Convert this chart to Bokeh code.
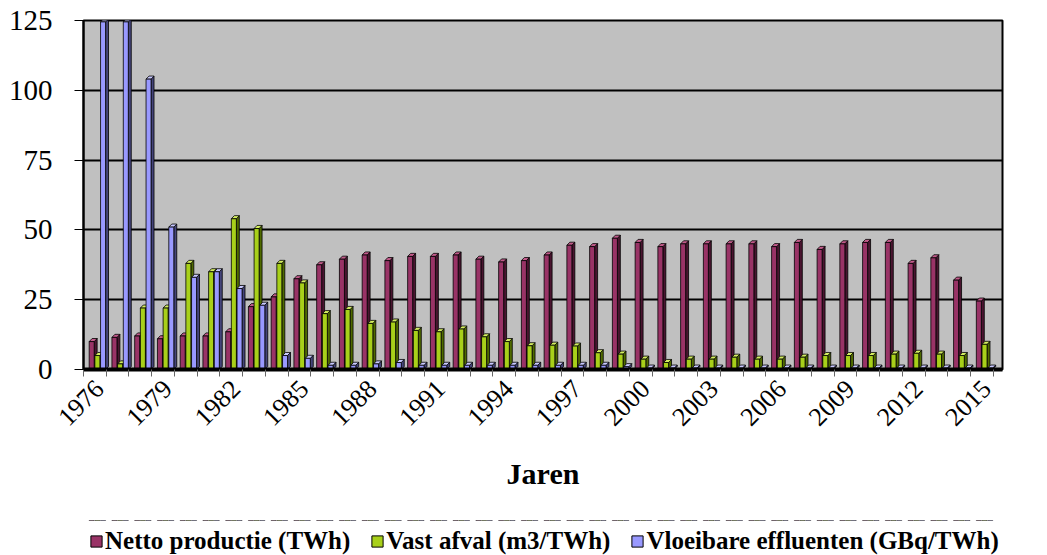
import numpy as np
from bokeh.plotting import figure
from bokeh.layouts import column
from bokeh.models import FixedTicker, Legend, LegendItem, Range1d
from bokeh.embed import file_html
from bokeh.resources import INLINE

years = list(range(1976, 2016))
netto = [10, 11.5, 12, 11, 12, 12, 13.5, 22.5, 26, 32.5,
         37.5, 39.5, 41, 39, 40.5, 40.5, 41, 39.5, 38.5, 39,
         41, 44.5, 44, 47, 45.5, 44, 45, 45, 45, 45,
         44, 45.5, 43, 45, 45.5, 45.5, 38, 40, 32, 24.5]
vast = [5, 2, 22, 22, 38, 35, 54, 50.5, 38, 31,
        20, 21.5, 16.5, 17, 14, 13.5, 14.5, 11.7, 10, 8.5,
        8.7, 8.4, 6, 5.5, 3.7, 2.5, 3.7, 3.7, 4.4, 3.7,
        3.7, 4.4, 5, 5, 5, 5.5, 5.8, 5.5, 5, 9]
vloeibare = [124.5, 124.5, 104, 51, 33, 35, 29, 23, 5, 4,
             1.5, 1.5, 2, 2.5, 1.5, 1.5, 1.5, 1.5, 1.5, 1.5,
             1.5, 1.5, 1.5, 1, 0.5, 0.5, 0.5, 0.5, 0.5, 0.5,
             0.5, 0.5, 0.5, 0.5, 0.5, 0.5, 0.5, 0.5, 0.5, 0.5]
series_names = ["Netto productie (TWh)", "Vast afval (m3/TWh)",
                "Vloeibare effluenten (GBq/TWh)"]
x_title = "Jaren"
tick_years = years[::3]
y_ticks = [0, 25, 50, 75, 100, 125]

front_colors = ["#993366", "#a8d01a", "#9999ff"]
side_colors = ["#4a1530", "#4f6a00", "#45457a"]
top_colors = ["#c25a8a", "#d4ee60", "#c8c8ff"]
offsets = [0.36, 0.61, 0.86]
w = 0.22
dx = 0.13
dy = 1.1

SERIF = "Liberation Serif"
all_series = [netto, vast, vloeibare]

p = figure(width=1039, height=520, x_range=Range1d(0, 40.4), y_range=Range1d(0, 125),
           output_backend="svg", toolbar_location=None,
           min_border_left=83, min_border_right=37, min_border_top=20,
           min_border_bottom=151)
p.background_fill_color = "#c0c0c0"
p.border_fill_color = "white"
p.outline_line_color = "black"
p.outline_line_width = 2

# grid
p.xgrid.grid_line_color = None
p.ygrid.grid_line_color = "black"
p.ygrid.grid_line_width = 2
p.ygrid.ticker = FixedTicker(ticks=y_ticks)

idx = np.arange(len(years))
for k, vals in enumerate(all_series):
    v = np.array(vals, dtype=float)
    xc = idx + offsets[k]
    xr = xc + w / 2
    xl = xc - w / 2
    side_xs = [[a, a + dx, a + dx, a] for a in xr]
    side_ys = [[0, dy, h + dy, h] for h in v]
    top_xs = [[l, l + dx, r + dx, r] for l, r in zip(xl, xr)]
    top_ys = [[h, h + dy, h + dy, h] for h in v]
    p.patches(side_xs, side_ys, fill_color=side_colors[k], line_color="black", line_width=0.8)
    p.patches(top_xs, top_ys, fill_color=top_colors[k], line_color="black", line_width=0.8)
    p.vbar(x=xc, top=v, bottom=0, width=w, fill_color=front_colors[k],
           line_color="black", line_width=0.8)

# x axis
centers = [years.index(y) + 0.7 for y in tick_years]
p.xaxis.ticker = FixedTicker(ticks=centers, minor_ticks=list(range(0, 41)))
p.xaxis.major_label_overrides = {c: str(y) for c, y in zip(centers, tick_years)}
p.xaxis.major_label_orientation = np.pi / 4
p.xaxis.major_tick_line_color = None
p.xaxis.major_tick_out = 4
p.xaxis.major_label_standoff = 8
p.xaxis.minor_tick_line_color = "#666666"
p.xaxis.minor_tick_out = 7
p.xaxis.minor_tick_in = 0
p.xaxis.axis_line_color = "black"
p.xaxis.axis_line_width = 4
p.xaxis.major_label_text_font = SERIF
p.xaxis.major_label_text_font_size = "26px"
p.xaxis.major_label_text_color = "black"
p.xaxis.axis_label = x_title
p.xaxis.axis_label_text_font = SERIF
p.xaxis.axis_label_text_font_style = "bold"
p.xaxis.axis_label_text_font_size = "30px"
p.xaxis.axis_label_text_color = "black"
p.xaxis.axis_label_standoff = 21

# y axis
p.yaxis.ticker = FixedTicker(ticks=y_ticks)
p.yaxis.major_label_text_font = SERIF
p.yaxis.major_label_text_font_size = "29px"
p.yaxis.major_label_text_color = "black"
p.yaxis.major_label_standoff = 22
p.yaxis.axis_line_color = "black"
p.yaxis.axis_line_width = 2
p.yaxis.major_tick_line_color = "black"
p.yaxis.major_tick_out = 9
p.yaxis.major_tick_in = 0
p.yaxis.minor_tick_line_color = None

# legend strip: a second figure directly below the chart
p2 = figure(width=1039, height=35, x_range=Range1d(0, 40.4), y_range=Range1d(-200, -100),
            output_backend="svg", toolbar_location=None,
            x_axis_location=None, y_axis_location=None,
            min_border_left=0, min_border_right=0, min_border_top=0, min_border_bottom=0)
p2.outline_line_color = None
p2.background_fill_color = "white"
p2.border_fill_color = "white"
p2.xgrid.grid_line_color = None
p2.ygrid.grid_line_color = None
proxies = []
for k, vals in enumerate(all_series):
    proxies.append(p2.vbar(x=idx + offsets[k], top=vals, bottom=0, width=w,
                           fill_color=front_colors[k], line_color="black", line_width=1))

legend = Legend(items=[LegendItem(label=n, renderers=[r]) for n, r in zip(series_names, proxies)],
                orientation="horizontal", location=(6, 0))
legend.label_text_font = SERIF
legend.label_text_font_style = "bold"
legend.label_text_font_size = "25px"
legend.label_text_color = "black"
legend.glyph_width = 14
legend.glyph_height = 14
legend.spacing = 20
legend.label_standoff = 2
legend.padding = 0
legend.border_line_color = None
legend.background_fill_alpha = 0
legend.margin = 0
p2.add_layout(legend)

layout = column(p, p2, spacing=0)
open("out.html", "w").write(file_html(layout, INLINE))
